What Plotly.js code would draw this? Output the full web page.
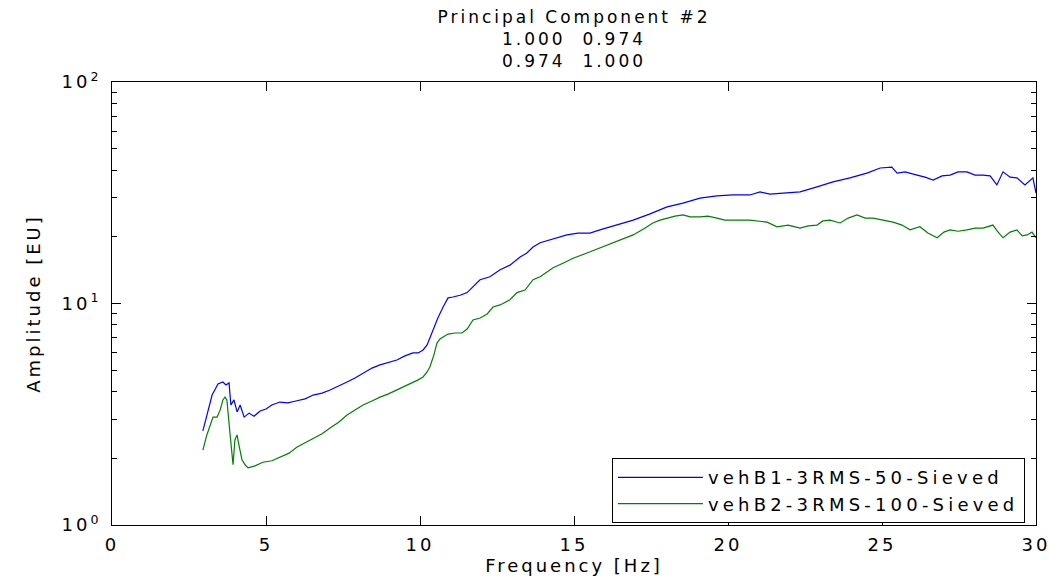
<!DOCTYPE html>
<html>
<head>
<meta charset="utf-8">
<script src="https://cdn.plot.ly/plotly-3.0.1.min.js"></script>
<style>
html,body{margin:0;padding:0;background:#fff;}
#chart{width:1049px;height:578px;}
svg text{letter-spacing:3px;}
.legendtext{letter-spacing:4.2px;}
</style>
</head>
<body>
<div id="chart"></div>
<script>
// Series 1: vehB1-3RMS-50-Sieved
var freqB1 = [2.95,3.08,3.25,3.44,3.60,3.70,3.80,3.86,3.96,4.06,4.16,4.29,4.45,4.61,4.81,5.00,5.19,5.45,5.71,5.97,6.27,6.53,6.82,7.08,7.37,7.63,7.89,8.15,8.44,8.70,8.96,9.25,9.51,9.77,9.94,10.10,10.23,10.42,10.58,10.75,10.91,11.07,11.30,11.53,11.72,11.95,12.27,12.60,12.92,13.25,13.47,13.67,13.90,14.22,14.48,14.77,15.13,15.52,15.84,16.40,16.92,17.47,18.02,18.54,19.09,19.64,20.16,20.71,21.04,21.36,21.79,22.34,22.89,23.41,23.96,24.51,24.94,25.32,25.49,25.75,26.14,26.40,26.66,26.95,27.21,27.47,27.76,28.02,28.28,28.51,28.73,28.93,29.16,29.38,29.64,29.90,30.0];
var ampB1 = [2.66,3.14,3.86,4.33,4.42,4.29,4.38,3.48,3.67,3.24,3.48,3.07,3.20,3.10,3.27,3.34,3.48,3.59,3.56,3.63,3.71,3.86,3.94,4.07,4.24,4.42,4.61,4.85,5.11,5.28,5.39,5.56,5.80,5.98,5.98,6.17,6.50,7.59,8.60,9.64,10.6,10.7,10.9,11.2,11.9,12.8,13.2,14.2,14.9,16.2,16.9,18.0,18.8,19.4,19.8,20.4,20.8,20.8,21.5,22.6,23.8,25.4,27.3,28.4,29.9,30.6,30.9,30.9,31.9,31.2,31.5,31.9,33.6,35.4,36.9,38.8,40.9,41.3,38.8,39.3,38.0,37.2,36.1,37.7,38.0,39.3,39.3,38.0,38.0,37.7,34.3,39.3,37.2,36.9,34.3,36.9,31.5];

// Series 2: vehB2-3RMS-100-Sieved
var freqB2 = [2.95,3.08,3.28,3.41,3.51,3.60,3.67,3.73,3.83,3.90,3.93,3.99,4.06,4.12,4.22,4.32,4.42,4.64,4.90,5.19,5.45,5.75,6.01,6.27,6.53,6.82,7.08,7.37,7.63,7.89,8.15,8.44,8.70,8.96,9.25,9.51,9.77,9.94,10.10,10.23,10.32,10.45,10.55,10.65,10.75,10.91,11.14,11.36,11.53,11.72,11.95,12.18,12.37,12.60,12.92,13.15,13.41,13.67,13.90,14.32,14.64,14.97,15.42,15.84,16.40,16.92,17.31,17.56,17.79,18.02,18.28,18.54,18.77,19.09,19.35,19.64,19.90,20.16,20.71,21.27,21.59,21.95,22.34,22.60,22.89,23.08,23.31,23.64,23.90,24.19,24.45,24.71,25.03,25.36,25.65,25.91,26.23,26.49,26.79,27.01,27.21,27.47,27.76,28.02,28.28,28.60,28.77,28.93,29.16,29.38,29.55,29.71,29.87,30.0];
var ampB2 = [2.18,2.55,3.07,3.07,3.30,3.67,3.78,3.67,2.60,2.07,1.87,2.42,2.55,2.30,1.97,1.87,1.81,1.85,1.92,1.95,2.03,2.11,2.25,2.35,2.47,2.58,2.74,2.92,3.14,3.30,3.48,3.63,3.78,3.90,4.07,4.24,4.38,4.52,4.66,4.91,5.17,5.85,6.63,6.92,7.06,7.28,7.36,7.36,7.67,8.43,8.60,8.97,9.64,9.85,10.4,11.2,11.5,12.8,13.2,14.5,15.2,16.0,16.9,17.8,19.0,20.4,21.9,23.1,23.8,24.3,24.8,25.1,24.6,24.6,24.8,24.3,23.8,23.8,23.8,23.3,22.2,22.6,21.9,22.4,22.6,23.6,23.8,23.1,24.3,25.1,24.3,24.3,23.8,23.3,22.6,21.5,22.2,20.8,19.8,21.0,21.5,21.2,21.5,21.9,21.9,22.6,21.0,19.8,21.0,21.5,20.2,20.4,21.0,19.8];

var xTickVals = [0,5,10,15,20,25,30];
var xTickText = ['0','5','10','15','20','25','30'];
var yTickVals = [1,10,100];
var yTickText = ['10<sup>0</sup>','10<sup>1</sup>','10<sup>2</sup>'];
var yMinorVals = [2,3,4,5,6,7,8,9,20,30,40,50,60,70,80,90];

var FONT = 'DejaVu Sans, Liberation Sans, Arial, sans-serif';
var FS = 18;

var traces = [
  {x: freqB1, y: ampB1, type: 'scatter', mode: 'lines', name: 'vehB1-3RMS-50-Sieved',
   line: {color: '#0000ff', width: 1.2}},
  {x: freqB2, y: ampB2, type: 'scatter', mode: 'lines', name: 'vehB2-3RMS-100-Sieved',
   line: {color: '#008000', width: 1.2}}
];

var layout = {
  width: 1049, height: 578,
  paper_bgcolor: '#ffffff', plot_bgcolor: '#ffffff',
  margin: {l: 112, r: 13, t: 82, b: 53, pad: 0},
  font: {family: FONT, size: FS, color: '#000000'},
  title: {
    text: 'Principal Component #2<br>1.000  0.974<br>0.974  1.000',
    font: {family: FONT, size: 17, color: '#000000'},
    x: 0.5, xref: 'paper', xanchor: 'center',
    y: 0.961, yref: 'container', yanchor: 'top'
  },
  xaxis: {
    range: [0, 30], showgrid: false, zeroline: false,
    showline: true, linecolor: '#000', linewidth: 1, mirror: 'allticks',
    ticks: 'inside', ticklen: 9, tickcolor: '#000', tickwidth: 1,
    tickmode: 'array', tickvals: xTickVals, ticktext: xTickText,
    ticklabelstandoff: 3, ticklabeloverflow: 'allow',
    tickfont: {family: FONT, size: FS, color: '#000'},
    title: {text: 'Frequency [Hz]', font: {family: FONT, size: FS, color: '#000'}, standoff: 4}
  },
  yaxis: {
    type: 'log', range: [0, 2], showgrid: false, zeroline: false,
    showline: true, linecolor: '#000', linewidth: 1, mirror: 'allticks',
    ticks: 'inside', ticklen: 9, tickcolor: '#000', tickwidth: 1,
    tickmode: 'array', tickvals: yTickVals, ticktext: yTickText,
    ticklabelstandoff: 6, ticklabeloverflow: 'allow',
    tickfont: {family: FONT, size: FS, color: '#000'},
    minor: {ticks: 'inside', ticklen: 5, tickcolor: '#000', tickwidth: 1, tickmode: 'array', tickvals: yMinorVals, showgrid: false},
    title: {text: 'Amplitude [EU]', font: {family: FONT, size: FS, color: '#000'}, standoff: 16}
  },
  showlegend: true,
  legend: {
    x: 0.988, xanchor: 'right', y: 0.151, yanchor: 'top',
    bgcolor: '#ffffff', bordercolor: '#000', borderwidth: 1,
    font: {family: FONT, size: FS, color: '#000'},
    itemwidth: 85, tracegroupgap: 0
  }
};

Plotly.newPlot('chart', traces, layout, {displayModeBar: false, staticPlot: true});
</script>
</body>
</html>
